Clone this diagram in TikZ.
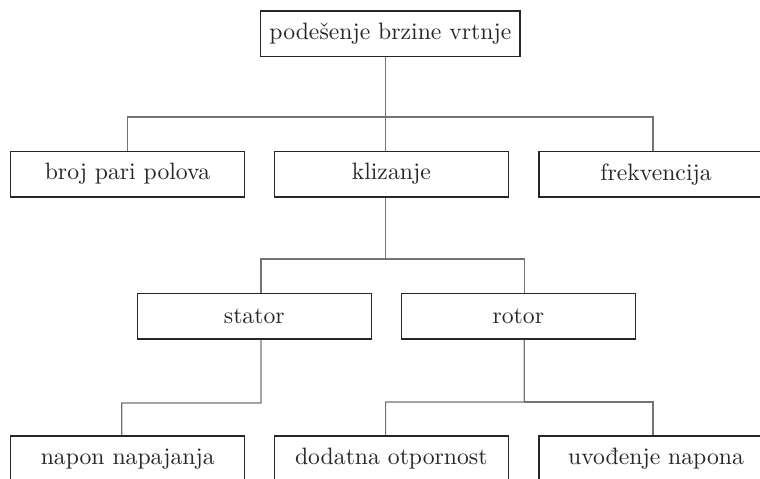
\documentclass[tikz,border=0pt]{standalone}
\usepackage{tikz}

\begin{document}
\begin{tikzpicture}[x=0.422pt, y=-0.422pt,
    box/.style={draw=black!85, line width=0.6pt, text=black!85, minimum width=98.7pt, minimum height=19.3pt, inner sep=3.7pt},
    link/.style={draw=black!55, line width=0.5pt}]
    \useasboundingbox (0,0) rectangle (760,479);

    % vrh
    \node[box, minimum width=0pt] (brzina) at (390.4,33.9) {podešenje brzine vrtnje};

    % drugi red
    \node[box] (polovi) at (127.5,174.2) {broj pari polova};
    \node[box] (klizanje) at (391.3,174.2) {klizanje};
    \node[box] (frekv) at (656,174.2) {frekvencija};

    % treci red
    \node[box] (stator) at (254.3,316.3) {stator};
    \node[box] (rotor) at (518.3,316.3) {rotor};

    % cetvrti red
    \node[box] (napon) at (127.7,458.7) {napon napajanja};
    \node[box] (otpor) at (391.3,458.7) {dodatna otpornost};
    \node[box] (uvod) at (656,458.7) {uvođenje napona};

    % veze
    \coordinate (g1) at (385.3,117);
    \coordinate (g2) at (385.3,259);
    \coordinate (g3) at (261,403);
    \coordinate (g4) at (524.3,402);
    \draw[link] (brzina.south -| g1) -- (klizanje.north -| g1);
    \draw[link] (polovi.north) |- (g1) -| ([xshift=-1.3pt]frekv.north);
    \draw[link] (klizanje.south -| g2) -- (g2);
    \draw[link] ([xshift=2.8pt]stator.north) |- (g2) -| ([xshift=2.5pt]rotor.north);
    \draw[link] ([xshift=2.8pt]stator.south) -- (g3) -| ([xshift=-2.5pt]napon.north);
    \draw[link] ([xshift=2.5pt]rotor.south) -- (g4) -| ([xshift=-2.4pt]otpor.north);
    \draw[link] (g4) -| ([xshift=-1.3pt]uvod.north);
\end{tikzpicture}
\end{document}
